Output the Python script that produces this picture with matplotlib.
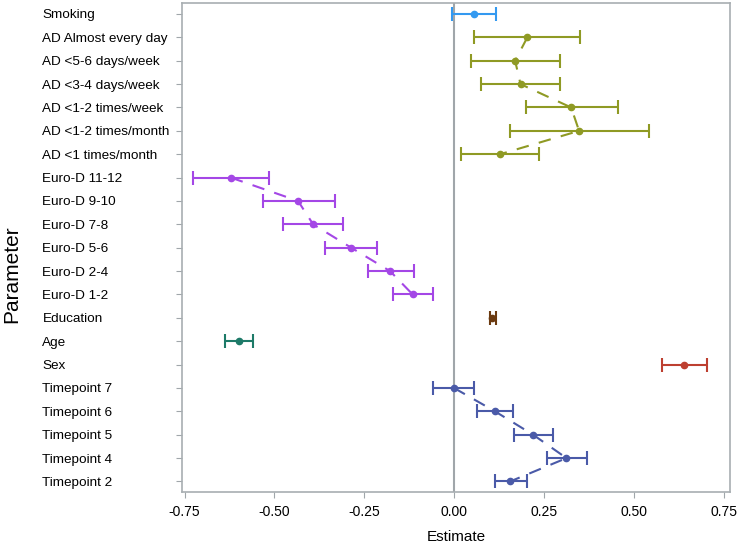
import matplotlib
matplotlib.use("Agg")
import matplotlib.pyplot as plt

plt.rcParams['font.family'] = ['Liberation Sans', 'DejaVu Sans']

# Parameters, top to bottom as shown
labels = ['Smoking',
          'AD Almost every day', 'AD <5-6 days/week', 'AD <3-4 days/week',
          'AD <1-2 times/week', 'AD <1-2 times/month', 'AD <1 times/month',
          'Euro-D 11-12', 'Euro-D 9-10', 'Euro-D 7-8', 'Euro-D 5-6',
          'Euro-D 2-4', 'Euro-D 1-2',
          'Education', 'Age', 'Sex',
          'Timepoint 7', 'Timepoint 6', 'Timepoint 5', 'Timepoint 4', 'Timepoint 2']

estimate = [0.056,
            0.204, 0.170, 0.185, 0.326, 0.348, 0.128,
            -0.621, -0.434, -0.392, -0.286, -0.178, -0.115,
            0.106, -0.599, 0.639,
            0.000, 0.114, 0.220, 0.313, 0.156]
lower = [-0.006,
         0.056, 0.046, 0.076, 0.200, 0.155, 0.020,
         -0.727, -0.532, -0.477, -0.359, -0.240, -0.169,
         0.099, -0.638, 0.578,
         -0.059, 0.063, 0.166, 0.260, 0.113]
upper = [0.116,
         0.350, 0.294, 0.295, 0.457, 0.543, 0.236,
         -0.514, -0.332, -0.310, -0.213, -0.112, -0.059,
         0.116, -0.559, 0.703,
         0.056, 0.165, 0.275, 0.369, 0.202]

# groups: (first index, last index, colour)
groups = [(0, 0, '#3399f0'),
          (1, 6, '#8f9a24'),
          (7, 12, '#a447e6'),
          (13, 13, '#6b3a10'),
          (14, 14, '#1d7a68'),
          (15, 15, '#bd3f30'),
          (16, 20, '#4a5aa8')]

n = len(labels)
ypos = [n - 1 - i for i in range(n)]

fig = plt.figure(figsize=(7.41, 5.48), dpi=100)
ax = fig.add_axes([182 / 741, 56 / 548, 548 / 741, 489 / 548])

ax.axvline(0, color='#a0a6aa', lw=1.5, zorder=1)

for first, last, col in groups:
    idx = list(range(first, last + 1))
    xs = [estimate[i] for i in idx]
    ys = [ypos[i] for i in idx]
    xerr = [[estimate[i] - lower[i] for i in idx],
            [upper[i] - estimate[i] for i in idx]]
    ax.errorbar(xs, ys, xerr=xerr, fmt='o', color=col, ms=4.5,
                elinewidth=1.5, capsize=4.7, capthick=1.5, zorder=3)
    if len(idx) > 1:
        ax.plot(xs, ys, ls=(0, (6, 5)), color=col, lw=1.5, zorder=2)

ax.set_xlim(-0.757, 0.768)
ax.set_ylim(-0.45, n - 1 + 0.47)
ax.set_xticks([-0.75, -0.5, -0.25, 0, 0.25, 0.5, 0.75])
ax.set_xticklabels(['-0.75', '-0.50', '-0.25', '0.00', '0.25', '0.50', '0.75'],
                   fontsize=10)
ax.set_yticks(ypos)
ax.set_yticklabels(labels, fontsize=9.7, ha='left')
# left-aligned labels starting about 41 px from the figure edge
ax.tick_params(axis='y', pad=96, length=4.5, color='#a0a6aa')
ax.tick_params(axis='x', length=4.5, color='#a0a6aa', pad=5)
for s in ax.spines.values():
    s.set_color('#a8aeb2')
    s.set_linewidth(1.2)

ax.set_xlabel('Estimate', fontsize=11, labelpad=8)
fig.text(12 / 741, 0.5, 'Parameter', rotation=90, fontsize=15,
         va='center', ha='center')

fig.savefig('out.png', dpi=100)
